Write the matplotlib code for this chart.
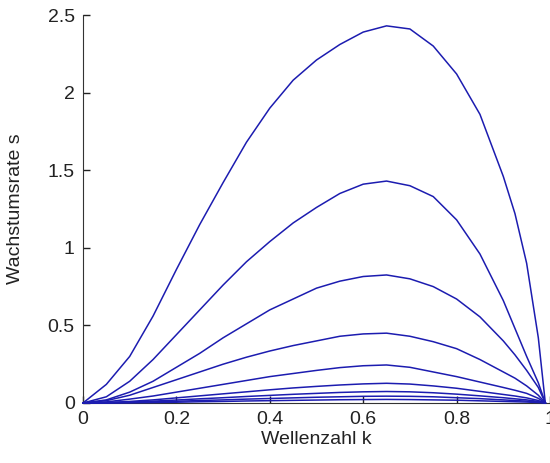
import numpy as np
import matplotlib
matplotlib.use("Agg")
from matplotlib import pyplot as plt

plt.rcParams['font.family'] = ['Liberation Sans', 'DejaVu Sans']

k = [0, 0.05, 0.1, 0.15, 0.2, 0.25, 0.3, 0.35, 0.4, 0.45, 0.5,
     0.55, 0.6, 0.65, 0.7, 0.75, 0.8, 0.85, 0.9, 0.925, 0.95, 0.975, 0.99]

# growth rates, one list per curve (largest first)
s1 = [0, 0.12, 0.30, 0.56, 0.86, 1.15, 1.42, 1.68, 1.90, 2.08, 2.21,
      2.31, 2.39, 2.43, 2.41, 2.30, 2.12, 1.86, 1.46, 1.22, 0.90, 0.42, 0]
s2 = [0, 0.04, 0.14, 0.28, 0.44, 0.60, 0.76, 0.91, 1.04, 1.16, 1.26,
      1.35, 1.41, 1.43, 1.40, 1.33, 1.18, 0.96, 0.66, 0.48, 0.30, 0.13, 0]
s3 = [0, 0.02, 0.07, 0.14, 0.23, 0.32, 0.42, 0.51, 0.60, 0.67, 0.74,
      0.785, 0.815, 0.825, 0.80, 0.75, 0.67, 0.555, 0.40, 0.31, 0.21, 0.10, 0]
s4 = [0, 0.015, 0.05, 0.10, 0.15, 0.20, 0.25, 0.295, 0.335, 0.37, 0.40,
      0.43, 0.445, 0.45, 0.43, 0.395, 0.35, 0.28, 0.20, 0.16, 0.11, 0.05, 0]
s5 = [0, 0.007, 0.025, 0.045, 0.07, 0.095, 0.12, 0.145, 0.17, 0.19, 0.21,
      0.228, 0.24, 0.245, 0.23, 0.20, 0.17, 0.135, 0.10, 0.082, 0.062, 0.03, 0]
s6 = [0, 0.003, 0.01, 0.02, 0.033, 0.046, 0.059, 0.072, 0.085, 0.097, 0.107,
      0.116, 0.123, 0.127, 0.122, 0.110, 0.095, 0.075, 0.055, 0.045, 0.033, 0.016, 0]
s7 = [0, 0.002, 0.006, 0.012, 0.019, 0.027, 0.034, 0.042, 0.049, 0.056, 0.062,
      0.068, 0.072, 0.074, 0.072, 0.066, 0.057, 0.046, 0.034, 0.027, 0.02, 0.01, 0]
s8 = [0, 0.001, 0.003, 0.007, 0.011, 0.016, 0.02, 0.025, 0.029, 0.033, 0.037,
      0.04, 0.043, 0.044, 0.043, 0.04, 0.034, 0.028, 0.02, 0.016, 0.012, 0.006, 0]
s9 = [0, 0.0005, 0.0015, 0.003, 0.005, 0.008, 0.01, 0.013, 0.015, 0.017, 0.019,
      0.021, 0.022, 0.023, 0.022, 0.02, 0.018, 0.014, 0.01, 0.008, 0.006, 0.003, 0]
curves = [s1, s2, s3, s4, s5, s6, s7, s8, s9]

fig = plt.figure(figsize=(5.5, 4.63), dpi=100)
ax = fig.add_axes([0.1509, 0.1296, 0.8491, 0.838])

for s in curves:
    ax.plot(k, s, color='#1c1cb0', linewidth=1.1, clip_on=False, zorder=3)

ax.set_xlim(0, 1)
ax.set_ylim(0, 2.5)
ax.set_xticks([0, 0.2, 0.4, 0.6, 0.8, 1])
ax.set_xticklabels(['0', '0.2', '0.4', '0.6', '0.8', '1'])
ax.set_yticks([0, 0.5, 1, 1.5, 2, 2.5])
ax.set_yticklabels(['0', '0.5', '1', '1.5', '2', '2.5'])
ax.tick_params(direction='in', length=5, width=1, labelsize=14, pad=6,
               colors='#222222')
ax.spines['top'].set_visible(False)
ax.spines['right'].set_visible(False)
ax.spines['left'].set_color('#333333')
ax.spines['bottom'].set_color('#333333')
ax.set_xlabel('Wellenzahl k', fontsize=14, color='#222222', labelpad=2)
ax.set_ylabel('Wachstumsrate s', fontsize=14, color='#222222', labelpad=17)

fig.savefig('out.png', dpi=100)
